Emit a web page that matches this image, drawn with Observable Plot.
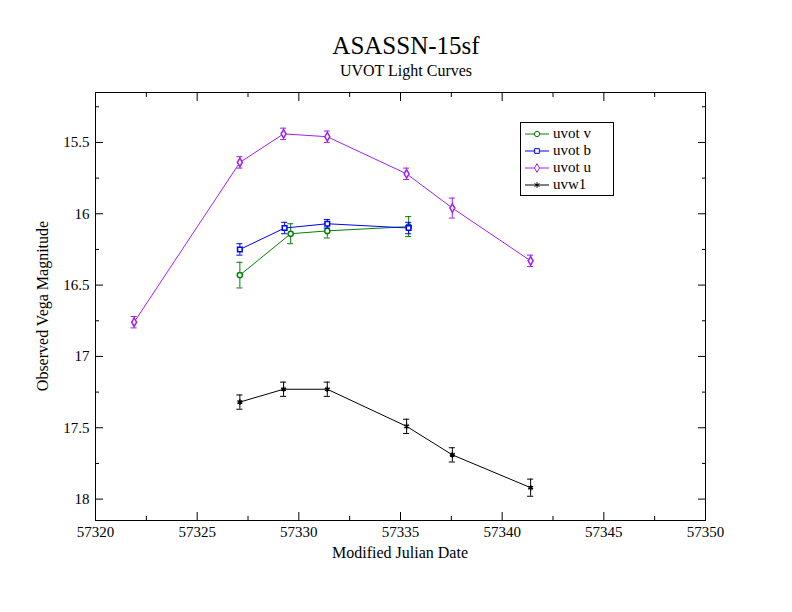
<!DOCTYPE html>
<html><head><meta charset="utf-8">
<script src="https://cdn.jsdelivr.net/npm/d3@7"></script>
<script src="https://cdn.jsdelivr.net/npm/@observablehq/plot@0.6"></script>
<style>
body{margin:0;background:#fff;font-family:"Liberation Serif",serif;}
#wrap{position:relative;width:792px;height:612px;}
#title{position:absolute;top:32px;width:792px;text-align:center;font-size:25px;left:10px}
#sub{position:absolute;top:62px;width:792px;text-align:center;font-size:16px;left:10px}
#legend{position:absolute;left:520px;top:122px;width:92px;border:1px solid #000;background:#fff;font-size:15px;padding:2px 0}
#legend div{height:17px;line-height:17px;display:flex;align-items:center}
#legend svg{margin:0 4px 0 4px}
</style></head><body>
<div id="wrap"><div id="chart"></div>
<div id="title">ASASSN-15sf</div><div id="sub">UVOT Light Curves</div>
<div id="legend"></div></div>
<script>
const vMjd = [57327.1, 57329.6, 57331.4, 57335.4];
const vMag = [16.43, 16.14, 16.12, 16.09];
const vErr = [0.09, 0.07, 0.05, 0.07];
const bMjd = [57327.1, 57329.3, 57331.4, 57335.4];
const bMag = [16.25, 16.10, 16.07, 16.10];
const bErr = [0.04, 0.04, 0.03, 0.04];
const uMjd = [57321.9, 57327.1, 57329.25, 57331.4, 57335.3, 57337.55, 57341.4];
const uMag = [16.76, 15.64, 15.44, 15.46, 15.72, 15.96, 16.33];
const uErr = [0.04, 0.04, 0.04, 0.04, 0.04, 0.07, 0.04];
const wMjd = [57327.1, 57329.25, 57331.4, 57335.3, 57337.55, 57341.4];
const wMag = [17.32, 17.23, 17.23, 17.49, 17.69, 17.92];
const wErr = [0.05, 0.05, 0.05, 0.05, 0.05, 0.06];

const series = [
  {name: "uvot v", color: "#008000", symbol: "circle", x: vMjd, y: vMag, e: vErr},
  {name: "uvot b", color: "#0000ff", symbol: "square", x: bMjd, y: bMag, e: bErr},
  {name: "uvot u", color: "#a020f0", symbol: "diamond", x: uMjd, y: uMag, e: uErr},
  {name: "uvw1", color: "#000000", symbol: "asterisk", x: wMjd, y: wMag, e: wErr}
];

const cap = 0.15;
const marks = [Plot.frame({stroke: "#000"})];
for (const s of series) {
  const d = s.x.map((x, i) => ({x, y: s.y[i], e: s.e[i]}));
  marks.push(
    Plot.line(d, {x: "x", y: "y", stroke: s.color, strokeWidth: 1}),
    Plot.ruleX(d, {x: "x", y1: d => d.y - d.e, y2: d => d.y + d.e, stroke: s.color}),
    Plot.ruleY(d, {y: d => d.y - d.e, x1: d => d.x - cap, x2: d => d.x + cap, stroke: s.color}),
    Plot.ruleY(d, {y: d => d.y + d.e, x1: d => d.x - cap, x2: d => d.x + cap, stroke: s.color}),
    Plot.dot(d, {x: "x", y: "y", stroke: s.color, symbol: s.symbol, r: 2.6, fill: s.symbol === "asterisk" ? null : "white"})
  );
}
const xMajor = d3.range(57320, 57351, 5), xMinor = d3.range(57322.5, 57350, 5);
const yMajor = [15.5, 16, 16.5, 17, 17.5, 18], yMinor = [15.25, 15.75, 16.25, 16.75, 17.25, 17.75];
const none = () => "";
marks.push(
  Plot.axisX({ticks: xMajor, anchor: "bottom", tickSize: -8, tickPadding: 14, fontSize: 15, label: null, tickFormat: d => String(d)}),
  Plot.axisX({ticks: xMinor, anchor: "bottom", tickSize: -4, tickFormat: none, label: null}),
  Plot.axisX({ticks: xMajor, anchor: "top", tickSize: -8, tickFormat: none, label: null}),
  Plot.axisX({ticks: xMinor, anchor: "top", tickSize: -4, tickFormat: none, label: null}),
  Plot.axisY({ticks: yMajor, anchor: "left", tickSize: -8, tickPadding: 14, fontSize: 15, label: null, tickFormat: d => String(d)}),
  Plot.axisY({ticks: yMinor, anchor: "left", tickSize: -4, tickFormat: none, label: null}),
  Plot.axisY({ticks: yMajor, anchor: "right", tickSize: -8, tickFormat: none, label: null}),
  Plot.axisY({ticks: yMinor, anchor: "right", tickSize: -4, tickFormat: none, label: null})
);
const chart = Plot.plot({
  width: 792, height: 612,
  marginLeft: 95, marginRight: 87, marginTop: 92, marginBottom: 92,
  style: {fontFamily: "Liberation Serif", fontSize: "15px", color: "#000"},
  x: {domain: [57320, 57350]},
  y: {domain: [15.15, 18.15], reverse: true},
  marks
});
d3.select(chart).append("text").attr("x", 400).attr("y", 558).attr("text-anchor", "middle")
  .attr("font-size", 16).text("Modified Julian Date");
d3.select(chart).append("text").attr("transform", "translate(48,306) rotate(-90)").attr("text-anchor", "middle")
  .attr("font-size", 16).text("Observed Vega Magnitude");
document.getElementById("chart").append(chart);

const syms = {circle: d3.symbolCircle, square: d3.symbolSquare, diamond: d3.symbolDiamond, asterisk: d3.symbolAsterisk};
const leg = d3.select("#legend");
for (const s of series) {
  const row = leg.append("div");
  const sv = row.append("svg").attr("width", 24).attr("height", 12);
  sv.append("line").attr("x1", 0).attr("x2", 24).attr("y1", 6).attr("y2", 6).attr("stroke", s.color);
  sv.append("path").attr("transform", "translate(12,6)")
    .attr("d", d3.symbol(syms[s.symbol], 22)())
    .attr("fill", s.symbol === "asterisk" ? s.color : "white").attr("stroke", s.color);
  row.append("span").text(s.name);
}
</script></body></html>
